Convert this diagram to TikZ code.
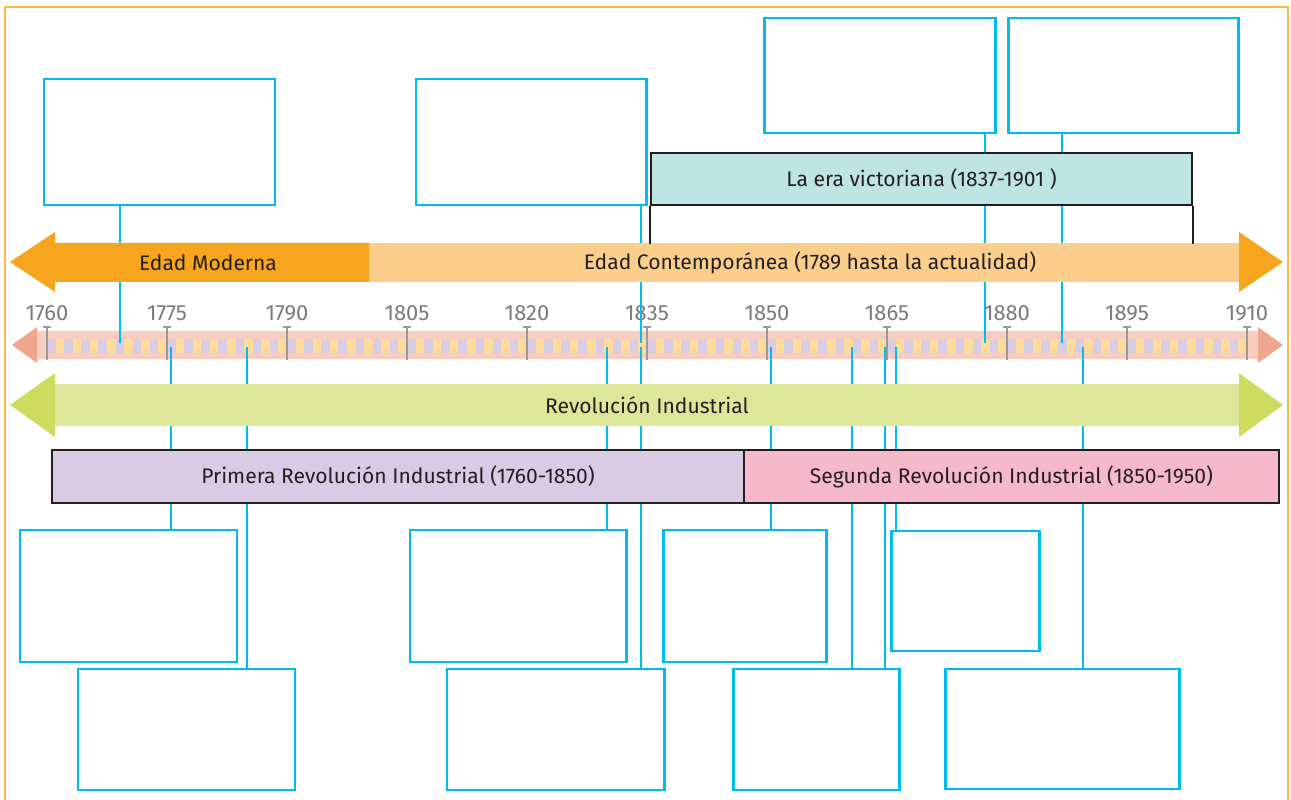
\documentclass[tikz,border=0pt]{standalone}
\usepackage{fontspec}
\setmainfont{Fira Sans}
\usetikzlibrary{calc}
\definecolor{cyanline}{HTML}{00BCEF}
\definecolor{framecol}{HTML}{FBBA48}
\definecolor{darkline}{HTML}{231F20}
\definecolor{orangedark}{HTML}{F7A51E}
\definecolor{orangelight}{HTML}{FCCE8B}
\definecolor{teal}{HTML}{BEE4E4}
\definecolor{barpink}{HTML}{F6CDBE}
\definecolor{barhead}{HTML}{F0A58D}
\definecolor{stripelilac}{HTML}{D9CCE5}
\definecolor{stripeyellow}{HTML}{FEDD9B}
\definecolor{tickgrey}{HTML}{9A9A9A}
\definecolor{yeargrey}{HTML}{7A7A7A}
\definecolor{greenlight}{HTML}{DDE79A}
\definecolor{greendark}{HTML}{CDDC5E}
\definecolor{lilac}{HTML}{DACBE5}
\definecolor{rose}{HTML}{F6B8CB}

\begin{document}
\begin{tikzpicture}[x=0.02cm,y=-0.02cm,
	card/.style={draw=cyanline,line width=1.7pt,inner sep=0pt},
	link/.style={cyanline,line width=1.6pt},
	period/.style={draw=darkline,line width=1.3pt,inner sep=0pt,text=darkline,font=\fontsize{12}{14}\selectfont},
	bandtext/.style={text=darkline,font=\fontsize{12}{14}\selectfont},
	year/.style={text=yeargrey,font=\fontsize{12.5}{14}\selectfont},
	tick/.style={tickgrey,line width=0.9pt}]
	\useasboundingbox (0,0) rectangle (1291,800);
	\draw[framecol,line width=1.2pt] (5,820) -- (5,7) -- (1288,7) -- (1288,820);
	
	\fill[barpink] (36,331) rectangle (1258,359);
	\fill[barhead] (12,345) -- (37,327) -- (37,363) -- cycle;
	\fill[barhead] (1283,345) -- (1258,327) -- (1258,363) -- cycle;
	\foreach \k in {0,...,139}
	{\ifodd\k\def\c{stripeyellow}\else\def\c{stripelilac}\fi
		\fill[\c] ({47+60/7*\k},339) rectangle ++(60/7,14);}
	\foreach \Y in {1760,1775,...,1910}
	{\pgfmathsetmacro{\X}{47+8*(\Y-1760)}
		\draw[tick] (\X,360) -- (\X,327) ++(-4,0) -- ++(8,0);
		\node[year] (yr\Y) at (\X,313) {\Y};}
	
	\foreach \n/\xa/\ya/\xb/\yb in {t1/44/79/275/205,t2/416/79/646/205,
		t3/764/18/995/133,t4/1008/18/1238/133,
		b1/20/530/237/662,b2/78/669/295/790,b3/410/530/626/662,b4/447/669/664/790,
		b5/663/530/826/662,b6/733/669/899/790,b7/891/531/1039/651,b8/945/669/1179/789}
	{\node[card,minimum width={(\xb-\xa)*0.02cm},minimum height={(\yb-\ya)*0.02cm}]
		(\n) at ({(\xa+\xb)/2},{(\ya+\yb)/2}) {};}
	\foreach \n/\X in {t1/120,t2/641,t3/985,t4/1062}
	{\coordinate (up-\n) at (\X,343);
		\draw[link] (\n.south -| up-\n) -- (up-\n);}
	\foreach \n/\X [count=\k] in {b1/171,b2/247,b3/607,b4/641,b5/771,b6/852,b6/885,b7/896,b8/1083}
	{\coordinate (dn\k) at (\X,347);
		\draw[link] (dn\k) -- (dn\k |- \n.north);}
	
	\fill[orangedark] (10,262) -- (55,232) -- (55,243) -- (369,243) -- (369,282) -- (55,282) -- (55,292) -- cycle;
	\fill[orangelight] (369,243) rectangle (1239,282);
	\fill[orangedark] (1283,262) -- (1239,232) -- (1239,292) -- cycle;
	\node[bandtext] (moderna) at (208,263) {Edad Moderna};
	\node[bandtext] (contemp) at (810,263) {Edad Contemporánea (1789 hasta la actualidad)};
	
	\fill[greenlight] (55,384) rectangle (1239,426);
	\fill[greendark] (10,405) -- (55,373) -- (55,437) -- cycle;
	\fill[greendark] (1283,405) -- (1239,373) -- (1239,437) -- cycle;
	\node[bandtext] (revol) at (647,405) {Revolución Industrial};
	
	\node[period,fill=teal,minimum width=541*0.02cm,minimum height=52*0.02cm]
	(vict) at (921.5,179) {La era victoriana (1837-1901 )};
	\draw[darkline,line width=1.3pt] (vict.south west) -- +(0,38);
	\draw[darkline,line width=1.3pt] (vict.south east) -- +(0,38);
	\node[period,fill=lilac,minimum width=692*0.02cm,minimum height=53*0.02cm]
	(first) at (398,476.5) {Primera Revolución Industrial (1760-1850)};
	\node[period,fill=rose,minimum width=535*0.02cm,minimum height=53*0.02cm]
	(second) at (1011.5,476.5) {Segunda Revolución Industrial (1850-1950)};
\end{tikzpicture}
\end{document}
